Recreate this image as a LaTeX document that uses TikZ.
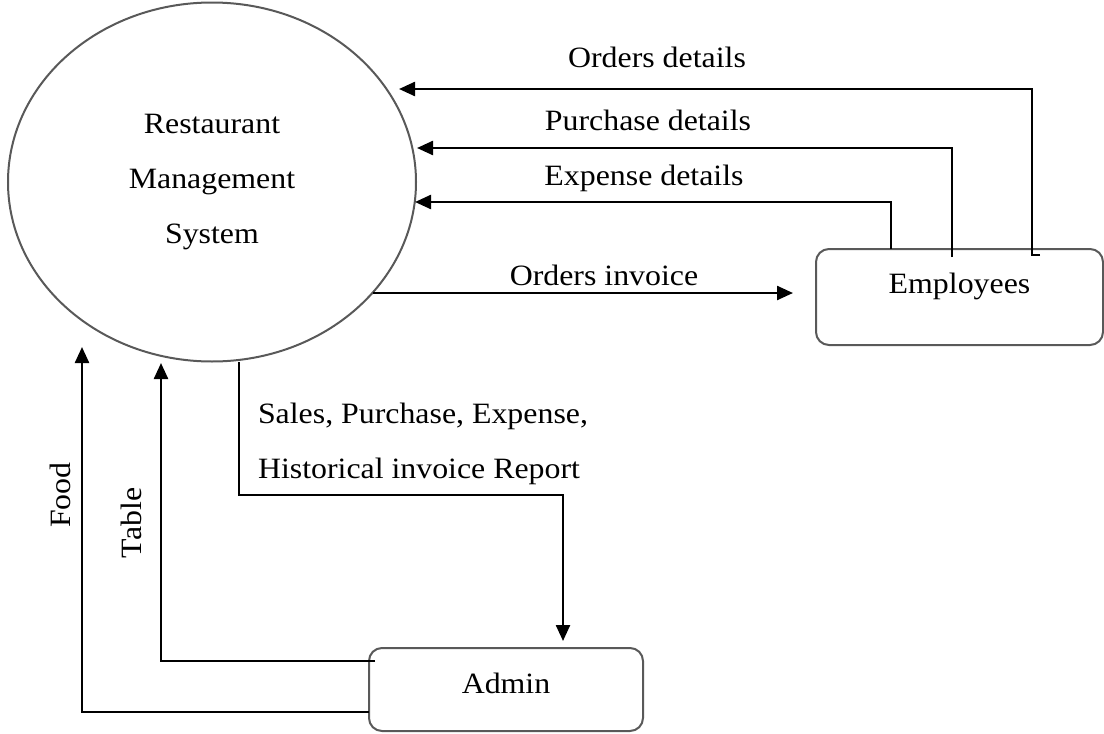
\documentclass[tikz,border=0pt]{standalone}
\usepackage{fontspec}
\setmainfont[FakeStretch=1.08]{Liberation Serif}
\usetikzlibrary{arrows.meta,shapes.geometric}
\definecolor{bordergray}{HTML}{595959}
\begin{document}
\begin{tikzpicture}[x=1pt,y=-1pt,
  every node/.style={font=\fontsize{29.5}{55}\selectfont, inner sep=0pt, outer sep=0pt},
  flow/.style={line width=2.4pt, -{Triangle[length=16pt,width=14pt]}},
  proc/.style={ellipse, draw=bordergray, line width=2pt, minimum width=408pt, minimum height=359pt},
  ent/.style={rectangle, rounded corners=13pt, draw=bordergray, line width=2pt},
  lbl/.style={anchor=base}]
\useasboundingbox (0,0) rectangle (1104,734);

% nodes
\node[proc, align=center] (rms) at (212,182) {Restaurant\\Management\\System};
\node[ent, minimum width=287pt, minimum height=96pt, text height=20pt, text depth=28pt] (emp) at (959.5,297) {Employees};
\node[ent, minimum width=274pt, minimum height=83pt, text height=20pt, text depth=13pt] (adm) at (506,689.5) {Admin};

% connector end points on the process border
\coordinate (odtip) at (399,89);
\coordinate (pdtip) at (417,148);
\coordinate (edtip) at (415,202);
\coordinate (oistart) at (373,293);
\coordinate (rptstart) at (239,362);
\coordinate (tbltip) at (161,363);
\coordinate (foodtip) at (82,347);

% connectors
\draw[flow] ([xshift=224pt,yshift=-6pt]emp.north west) -- ++(-8,0) |- (odtip);
\draw[flow] ([xshift=136pt,yshift=-8pt]emp.north west) |- (pdtip);
\draw[flow] ([xshift=75pt]emp.north west) |- (edtip);
\draw[flow] (oistart) -- ([xshift=-23pt,yshift=4pt]emp.west);
\draw[flow] (rptstart) -- ++(0,133) -| ([xshift=57pt,yshift=7pt]adm.north);
\draw[flow] ([xshift=6pt,yshift=28.5pt]adm.west) -| (tbltip);
\draw[flow] ([yshift=-22.5pt]adm.west) -| (foodtip);

% labels
\node[lbl] (odlbl) at (657,67) {Orders details};
\node[lbl] (pdlbl) at (648,130) {Purchase details};
\node[lbl] (edlbl) at (644,185) {Expense details};
\node[lbl] (oilbl) at (604,285) {Orders invoice};
\node[align=left, anchor=north west] (rptlbl) at (258,402.8) {Sales, Purchase, Expense,\\Historical invoice Report};
\node[rotate=90] (foodlbl) at (60,495) {Food};
\node[rotate=90] (tbllbl) at (131.5,523) {Table};
\end{tikzpicture}
\end{document}
